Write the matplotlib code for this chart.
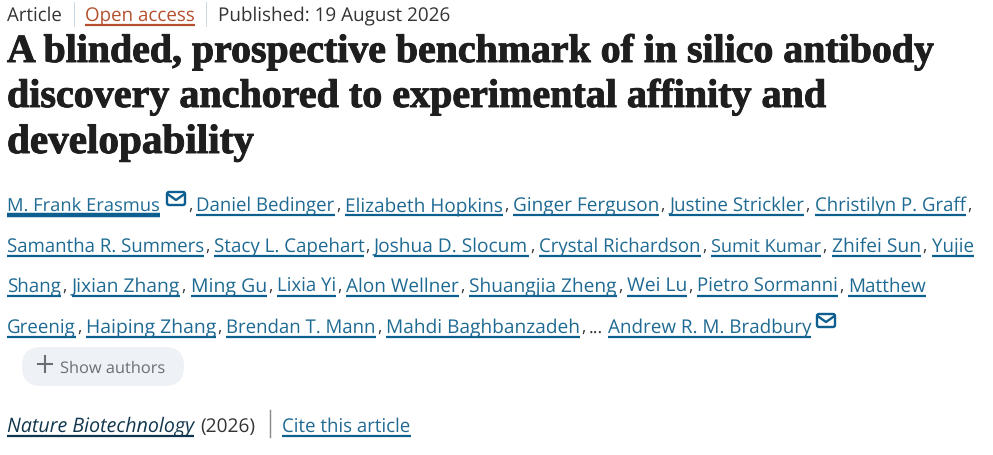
import matplotlib
matplotlib.use("Agg")
from matplotlib import pyplot as plt
from matplotlib import patheffects as pe
from matplotlib.patches import FancyBboxPatch, Rectangle

plt.rcParams["text.hinting"] = "no_hinting"

W, H = 993, 455
BLUE = "#1f6a93"
LINE_BLUE = "#0c5f8f"
DARK = "#333333"

meta_labels = ["Article", "Open access", "Published: 19 August 2026"]
title_lines = ["A blinded, prospective benchmark of in silico antibody",
               "discovery anchored to experimental affinity and",
               "developability"]
authors = [["M. Frank Erasmus", "Daniel Bedinger", "Elizabeth Hopkins", "Ginger Ferguson",
            "Justine Strickler", "Christilyn P. Graff"],
           ["Samantha R. Summers", "Stacy L. Capehart", "Joshua D. Slocum", "Crystal Richardson",
            "Sumit Kumar", "Zhifei Sun", "Yujie"],
           ["Shang", "Jixian Zhang", "Ming Gu", "Lixia Yi", "Alon Wellner", "Shuangjia Zheng",
            "Wei Lu", "Pietro Sormanni", "Matthew"],
           ["Greenig", "Haiping Zhang", "Brendan T. Mann", "Mahdi Baghbanzadeh",
            "Andrew R. M. Bradbury"]]
journal = "Nature Biotechnology"
year = "(2026)"
cite = "Cite this article"
show_authors = "Show authors"

# x spans of each name, one row per line of authors
author_x = [[(7, 160), (196, 335), (345, 503), (513, 659), (669, 804), (815, 966)],
            [(7, 204), (214, 364), (374, 529), (539, 701), (711, 821), (832, 921), (932, 974)],
            [(7, 61), (72, 180), (191, 267), (277, 336), (346, 459), (469, 617), (627, 687),
             (697, 838), (848, 926)],
            [(7, 76), (86, 216), (226, 376), (386, 580), (608, 811)]]
author_y = [211, 252, 292, 333]

fig = plt.figure(figsize=(W / 100, H / 100), dpi=100)
ax = fig.add_axes([0, 0, 1, 1])
ax.set_xlim(0, W)
ax.set_ylim(H, 0)
ax.axis("off")


def fit(x0, x1, y, s, size=13.5, **kw):
    # draw on baseline and rescale the font so the text spans x0..x1
    t = ax.text(x0, y, s, fontsize=size, va="baseline", ha="left", **kw)
    r = fig.canvas.get_renderer()
    for _ in range(3):
        w = t.get_window_extent(r).width
        t.set_fontsize(t.get_fontsize() * (x1 - x0) / w)
    return t


def under(x0, x1, y, color=LINE_BLUE, lw=1.6):
    ax.plot([x0, x1], [y, y], color=color, lw=lw, solid_capstyle="butt")


def mail(x, y):
    ax.add_patch(FancyBboxPatch((x + 1, y + 1), 18, 13, boxstyle="round,pad=0,rounding_size=2",
                                fc="white", ec=LINE_BLUE, lw=1.7))
    ax.plot([x + 1.5, x + 10, x + 18.5], [y + 3, y + 9, y + 3], color=LINE_BLUE, lw=1.7)


sans = "Open Sans"

# top meta row
fit(7, 62, 21, meta_labels[0], family=sans, color=DARK)
fit(85, 195, 21, meta_labels[1], family=sans, color="#b5502f")
under(85, 195, 25, color="#b5502f")
fit(218, 451, 21, meta_labels[2], family=sans, color=DARK)
for sx in (73.5, 205.5):
    ax.add_patch(Rectangle((sx, 2), 1.6, 25, fc="#c9d8e6", ec="none"))

# title
title_x = [(7, 934), (7, 826), (7, 254)]
title_y = [62, 107, 153]
for line, (x0, x1), y in zip(title_lines, title_x, title_y):
    t = fit(x0, x1, y, line, size=30, family="Liberation Serif", weight="bold", color="#1e1e1e")
    t.set_path_effects([pe.withStroke(linewidth=0.7, foreground="#1e1e1e")])

# authors
for row, xs, y in zip(authors, author_x, author_y):
    for i, (name, (x0, x1)) in enumerate(zip(row, xs)):
        fit(x0, x1, y, name, family=sans, color=BLUE)
        under(x0, x1, y + 3.5)
        last_in_row = i == len(row) - 1
        if not (last_in_row and y in (252, 333)) and not (i == 0 and y == 211):
            if not (name == "Matthew"):
                ax.text(x1 + 1, y, ",", fontsize=12, family=sans, color=DARK, va="baseline")
ax.text(188, author_y[0], ",", fontsize=12, family=sans, color=DARK, va="baseline")
ax.text(589, author_y[3], "...", fontsize=13, family=sans, color=DARK, va="baseline")
under(7, 160, 215, lw=3.2)
mail(166, 191)
mail(816, 313)

# show authors pill
ax.add_patch(FancyBboxPatch((22, 347), 162, 39, boxstyle="round,pad=0,rounding_size=19",
                            fc="#eef1f5", ec="none"))
ax.plot([45, 45], [356, 372], color="#6a6f75", lw=1.5)
ax.plot([38, 52], [364, 364], color="#6a6f75", lw=1.5)
fit(60, 165, 373, show_authors, family=sans, color="#6a6f75")

# journal row
fit(7, 194, 432, journal, family=sans, style="italic", color="#10364d")
under(7, 194, 435.5, color="#10364d")
fit(200, 255, 432, year, family=sans, color=DARK)
ax.plot([270, 270], [410, 437], color="#888888", lw=1)
fit(282, 411, 432, cite, family=sans, color=BLUE)
under(282, 411, 435.5)

fig.savefig("out.png", dpi=100)
